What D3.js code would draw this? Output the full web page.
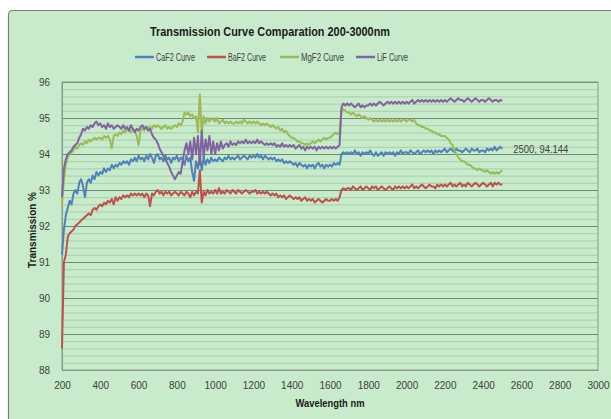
<!DOCTYPE html>
<html>
<head>
<meta charset="utf-8">
<script src="https://cdn.jsdelivr.net/npm/d3@7"></script>
<style>
body { margin: 0; background: #fff; }
svg { display: block; font-family: "Liberation Sans", "DejaVu Sans", sans-serif; }
</style>
</head>
<body>
<script>
// wavelength grid, nm (10 nm steps from 200 to 2500)
var wavelengths = d3.range(200, 2501, 10);

// transmission %, one row per 100 nm
var caf2 = [
	91.2, 91.9, 92.3, 92.5, 92.7, 92.6, 92.9, 93.0, 92.9, 93.2,
	93.3, 93.1, 92.8, 93.2, 93.3, 93.2, 93.4, 93.3, 93.5, 93.4,
	93.5, 93.45, 93.6, 93.5, 93.6, 93.55, 93.7, 93.6, 93.7, 93.65,
	93.75, 93.7, 93.8, 93.75, 93.8, 93.7, 93.85, 93.8, 93.9, 93.8,
	93.95, 93.85, 93.9, 93.8, 93.95, 93.85, 94.0, 93.9, 93.75, 93.95,
	94.0, 93.85, 93.9, 93.8, 93.95, 93.85, 93.9, 93.75, 93.9, 93.85,
	93.95, 93.8, 93.9, 93.85, 93.7, 93.95, 93.8, 93.9, 93.5, 93.25,
	93.8, 93.6, 93.95, 93.55, 93.9, 93.7, 93.85, 93.75, 93.9, 93.8,
	93.85, 93.8, 93.9, 93.85, 93.8, 93.9, 93.85, 93.95, 93.85, 93.9,
	93.85, 93.9, 93.95, 93.85, 93.9, 93.95, 93.9, 93.85, 93.95, 93.9,
	93.95, 93.9, 94.0, 93.9, 93.95, 93.85, 93.95, 93.9, 93.85, 93.9,
	93.85, 93.9, 93.8, 93.85, 93.8, 93.85, 93.75, 93.8, 93.75, 93.8,
	93.75, 93.7, 93.75, 93.65, 93.75, 93.7, 93.65, 93.7, 93.6, 93.7,
	93.65, 93.7, 93.6, 93.7, 93.75, 93.65, 93.7, 93.6, 93.7, 93.65,
	93.7, 93.65, 93.75, 93.7, 93.75, 93.7, 94.0, 94.05, 94.0, 94.05,
	94.0, 94.05, 94.0, 94.1, 94.0, 94.05, 93.95, 94.05, 94.0, 94.05,
	94.0, 94.1, 94.0, 93.95, 94.05, 93.95, 94.0, 94.05, 93.95, 94.05,
	94.0, 94.05, 94.0, 94.05, 93.95, 94.05, 94.0, 94.1, 94.0, 94.05,
	94.05, 94.0, 94.1, 94.05, 94.0, 94.05, 94.1, 94.0, 94.05, 94.1,
	94.05, 94.1, 94.05, 94.1, 94.0, 94.1, 94.05, 94.1, 94.05, 94.1,
	94.15, 94.05, 94.1, 94.15, 94.1, 94.05, 94.15, 94.1, 94.1, 94.05,
	94.1, 94.15, 94.1, 94.05, 94.15, 94.1, 94.1, 94.15, 94.05, 94.1,
	94.1, 94.05, 94.15, 94.1, 94.15, 94.1, 94.2, 94.1, 94.15, 94.2,
	94.144
];

var baf2 = [
	88.6, 91.0, 91.2, 91.7, 91.8, 91.85, 91.9, 92.0, 92.05, 92.1,
	92.15, 92.2, 92.25, 92.3, 92.35, 92.3, 92.45, 92.5, 92.45, 92.55,
	92.6, 92.55, 92.65, 92.6, 92.7, 92.65, 92.75, 92.6, 92.8, 92.7,
	92.8, 92.75, 92.85, 92.8, 92.85, 92.8, 92.9, 92.85, 92.9, 92.85,
	92.9, 92.85, 92.9, 92.8, 92.9, 92.85, 92.55, 92.9, 92.85, 92.95,
	93.0, 92.9, 92.95, 92.85, 92.95, 92.9, 92.95, 92.85, 92.9, 92.95,
	92.9, 92.85, 92.95, 92.9, 92.85, 92.95, 92.9, 92.8, 92.95, 92.85,
	92.95, 92.9, 93.55, 92.65, 92.95, 92.85, 93.0, 92.9, 92.95, 92.9,
	93.0, 92.9, 93.05, 92.9, 92.95, 92.9, 93.0, 92.95, 92.9, 93.0,
	92.95, 92.9, 93.0, 92.95, 92.9, 92.95, 93.0, 92.95, 92.9, 92.95,
	92.95, 93.0, 92.9, 92.95, 92.9, 92.95, 92.9, 92.95, 92.9, 92.85,
	92.9, 92.85, 92.9, 92.8, 92.85, 92.8, 92.85, 92.75, 92.8, 92.85,
	92.8, 92.75, 92.8, 92.75, 92.8, 92.7, 92.75, 92.8, 92.7, 92.75,
	92.7, 92.75, 92.65, 92.7, 92.75, 92.7, 92.65, 92.7, 92.75, 92.7,
	92.7, 92.75, 92.7, 92.75, 92.7, 92.8, 93.0, 93.05, 93.0, 93.05,
	93.05, 93.0, 93.1, 93.05, 93.0, 93.05, 93.1, 93.0, 93.05, 93.1,
	93.05, 93.0, 93.1, 93.05, 93.1, 93.0, 93.05, 93.1, 93.05, 93.0,
	93.05, 93.1, 93.05, 93.0, 93.1, 93.05, 93.1, 93.05, 93.1, 93.05,
	93.1, 93.05, 93.1, 93.15, 93.05, 93.1, 93.05, 93.1, 93.15, 93.1,
	93.05, 93.1, 93.15, 93.1, 93.1, 93.05, 93.15, 93.1, 93.15, 93.1,
	93.15, 93.1, 93.15, 93.2, 93.1, 93.15, 93.1, 93.15, 93.2, 93.1,
	93.15, 93.1, 93.2, 93.15, 93.1, 93.15, 93.2, 93.15, 93.1, 93.15,
	93.2, 93.15, 93.1, 93.15, 93.2, 93.1, 93.2, 93.15, 93.2, 93.15,
	93.15
];

var mgf2 = [
	92.6, 93.3, 93.7, 93.9, 94.0, 94.05, 94.1, 94.2, 94.15, 94.25,
	94.3, 94.25, 94.35, 94.3, 94.4, 94.35, 94.4, 94.45, 94.4, 94.45,
	94.45, 94.4, 94.5, 94.45, 94.5, 94.4, 94.15, 94.5, 94.55, 94.5,
	94.6, 94.55, 94.65, 94.6, 94.7, 94.65, 94.6, 94.7, 94.65, 94.5,
	94.25, 94.65, 94.7, 94.65, 94.75, 94.7, 94.75, 94.7, 94.8, 94.75,
	94.8, 94.75, 94.7, 94.75, 94.8, 94.7, 94.75, 94.7, 94.75, 94.8,
	94.75, 94.85, 94.8, 94.9, 95.15, 95.1, 95.15, 95.05, 95.1, 95.0,
	95.05, 94.6, 95.65, 94.55, 95.05, 94.85, 95.0, 94.9, 95.0, 94.95,
	94.9, 95.0, 94.85, 94.9, 94.95, 94.85, 94.9, 94.85, 94.9, 94.85,
	94.85, 94.9, 94.85, 94.9, 94.85, 94.95, 94.9, 94.85, 94.9, 94.85,
	94.9, 94.85, 94.9, 94.85, 94.8, 94.85, 94.8, 94.85, 94.8, 94.75,
	94.8, 94.75, 94.7, 94.75, 94.65, 94.7, 94.6, 94.65, 94.55, 94.5,
	94.45, 94.45, 94.4, 94.35, 94.35, 94.3, 94.3, 94.25, 94.3, 94.25,
	94.3, 94.35, 94.3, 94.35, 94.4, 94.35, 94.4, 94.45, 94.4, 94.45,
	94.45, 94.5, 94.55, 94.6, 94.55, 94.6, 95.2, 95.25, 95.2, 95.15,
	95.15, 95.1, 95.15, 95.1, 95.05, 95.1, 95.05, 95.0, 95.05, 95.0,
	94.95, 95.0, 94.95, 94.9, 94.95, 94.9, 94.95, 94.9, 94.95, 94.9,
	94.95, 94.9, 94.95, 94.9, 94.95, 94.9, 94.95, 94.9, 94.95, 94.95,
	94.9, 94.95, 94.95, 94.9, 94.95, 94.85, 94.8, 94.8, 94.75, 94.75,
	94.7, 94.7, 94.65, 94.65, 94.6, 94.6, 94.55, 94.55, 94.5, 94.5,
	94.5, 94.45, 94.4, 94.3, 94.25, 94.1, 94.0, 93.9, 93.85, 93.8,
	93.8, 93.75, 93.7, 93.7, 93.65, 93.6, 93.6, 93.55, 93.6, 93.55,
	93.55, 93.5, 93.55, 93.5, 93.45, 93.5, 93.45, 93.5, 93.45, 93.5,
	93.55
];

var lif = [
	92.8, 93.6, 93.85, 94.0, 94.05, 94.1, 94.2, 94.25, 94.3, 94.45,
	94.55, 94.7, 94.65, 94.75, 94.7, 94.8, 94.75, 94.85, 94.9, 94.8,
	94.85, 94.75, 94.8, 94.7, 94.85, 94.75, 94.8, 94.7, 94.75, 94.8,
	94.75, 94.7, 94.8, 94.7, 94.75, 94.65, 94.8, 94.7, 94.6, 94.7,
	94.65, 94.75, 94.8, 94.7, 94.75, 94.65, 94.7, 94.55, 94.45, 94.4,
	94.3, 94.15, 94.05, 93.95, 93.85, 93.75, 93.65, 93.5, 93.4, 93.3,
	93.4, 93.5, 93.45, 93.8, 94.1, 94.3, 94.0, 94.35, 93.85, 94.45,
	94.0, 94.5, 93.7, 94.65, 93.9, 94.4, 94.1, 94.5, 94.0, 94.35,
	94.0, 94.3, 94.1, 94.35, 94.15, 94.25, 94.3, 94.2, 94.35, 94.25,
	94.3, 94.25, 94.35, 94.3, 94.35, 94.3, 94.4, 94.3, 94.35, 94.3,
	94.35, 94.3, 94.4, 94.3, 94.35, 94.3, 94.25, 94.3, 94.25, 94.3,
	94.25, 94.3, 94.2, 94.25, 94.2, 94.3, 94.2, 94.25, 94.2, 94.25,
	94.2, 94.25, 94.15, 94.2, 94.25, 94.15, 94.2, 94.1, 94.2, 94.15,
	94.2, 94.15, 94.2, 94.1, 94.2, 94.15, 94.2, 94.15, 94.2, 94.15,
	94.2, 94.15, 94.2, 94.15, 94.2, 94.25, 95.3, 95.4, 95.35, 95.4,
	95.35, 95.4, 95.35, 95.3, 95.35, 95.4, 95.3, 95.35, 95.3, 95.35,
	95.35, 95.4, 95.35, 95.4, 95.35, 95.4, 95.45, 95.4, 95.35, 95.4,
	95.45, 95.4, 95.45, 95.4, 95.45, 95.4, 95.45, 95.4, 95.45, 95.4,
	95.45, 95.4, 95.45, 95.5, 95.4, 95.45, 95.5, 95.45, 95.5, 95.45,
	95.5, 95.45, 95.5, 95.45, 95.5, 95.45, 95.5, 95.45, 95.5, 95.45,
	95.5, 95.45, 95.5, 95.55, 95.5, 95.45, 95.5, 95.55, 95.5, 95.5,
	95.45, 95.5, 95.55, 95.5, 95.45, 95.5, 95.55, 95.5, 95.45, 95.5,
	95.5, 95.45, 95.5, 95.55, 95.5, 95.45, 95.5, 95.5, 95.45, 95.5,
	95.48
];

var seriesNames = ['CaF2 Curve', 'BaF2 Curve', 'MgF2 Curve', 'LiF Curve'];
var seriesColors = ['#4f81bd', '#c0504d', '#9bbb59', '#8064a2'];
var xTicks = [200, 400, 600, 800, 1000, 1200, 1400, 1600, 1800, 2000, 2200, 2400, 2600, 2800, 3000];
var yTicks = [88, 89, 90, 91, 92, 93, 94, 95, 96];

var width = 611,
	height = 419,
	margin = {top: 82, right: 13, bottom: 49, left: 62};

var svg = d3.select('body').append('svg')
	.attr('width', width)
	.attr('height', height);

// chart area background + border
svg.append('rect')
	.attr('x', 8.5)
	.attr('y', 10.5)
	.attr('width', 640)
	.attr('height', 440)
	.attr('rx', 4)
	.attr('fill', '#c8ebcb')
	.attr('stroke', '#7f7f7f')
	.attr('stroke-width', 1.2);

var w = width - margin.left - margin.right,
	h = height - margin.top - margin.bottom;

var xScale = d3.scaleLinear().domain([200, 3000]).range([0, w]),
	yScale = d3.scaleLinear().domain([88, 96]).range([h, 0]);

var g = svg.append('g')
	.attr('transform', 'translate(' + margin.left + ',' + margin.top + ')');

// minor gridlines every 0.2
g.append('g')
	.call(d3.axisLeft(yScale).tickValues(d3.range(88, 96.01, 0.2)).tickSize(-w).tickFormat(''))
	.call(function(s) {
		s.select('.domain').remove();
		s.selectAll('line').attr('stroke', '#a9cdab').attr('stroke-width', 1);
	});

// major gridlines
g.append('g')
	.call(d3.axisLeft(yScale).tickValues(yTicks).tickSize(-w).tickFormat(''))
	.call(function(s) {
		s.select('.domain').remove();
		s.selectAll('line').attr('stroke', '#6f8a70').attr('stroke-width', 1);
	});

// plot border
g.append('rect')
	.attr('width', w)
	.attr('height', h)
	.attr('fill', 'none')
	.attr('stroke', '#8a9a8a')
	.attr('stroke-width', 1);

// y axis
g.append('g')
	.call(d3.axisLeft(yScale).tickValues(yTicks).tickSize(0).tickPadding(12).tickFormat(d3.format('d')))
	.call(function(s) {
		s.select('.domain').attr('stroke', '#8a9a8a');
		s.selectAll('text').attr('font-size', 10).attr('fill', '#404040');
	});

// x axis
g.append('g')
	.attr('transform', 'translate(0,' + h + ')')
	.call(d3.axisBottom(xScale).tickValues(xTicks).tickSize(0).tickPadding(12).tickFormat(d3.format('d')))
	.call(function(s) {
		s.select('.domain').attr('stroke', '#8a9a8a');
		s.selectAll('text').attr('font-size', 10).attr('fill', '#404040');
	});

// lines
var allSeries = [caf2, baf2, mgf2, lif];
var line = d3.line()
	.x(function(d, i) { return xScale(wavelengths[i]); })
	.y(function(d) { return yScale(d); });

g.selectAll('.series')
	.data(allSeries)
	.enter().append('path')
	.attr('class', 'series')
	.attr('fill', 'none')
	.attr('stroke', function(d, i) { return seriesColors[i]; })
	.attr('stroke-width', 2)
	.attr('stroke-linejoin', 'round')
	.attr('d', line);

// data label at the last CaF2 point
var last = caf2.length - 1;
g.append('text')
	.attr('x', xScale(wavelengths[last]) + 11)
	.attr('y', yScale(caf2[last]) + 4)
	.attr('font-size', 10)
	.attr('textLength', 55)
	.attr('lengthAdjust', 'spacingAndGlyphs')
	.attr('fill', '#404040')
	.text(wavelengths[last] + ', ' + caf2[last]);

// title
svg.append('text')
	.attr('x', 270)
	.attr('y', 36)
	.attr('text-anchor', 'middle')
	.attr('font-size', 13)
	.attr('font-weight', 'bold')
	.attr('textLength', 240)
	.attr('lengthAdjust', 'spacingAndGlyphs')
	.attr('fill', '#1a1a1a')
	.text('Transmission Curve Comparation 200-3000nm');

// legend
var legendX = [135, 207, 280, 356],
	legendW = [39, 38, 43, 31];
var legend = svg.selectAll('.legend')
	.data(seriesNames)
	.enter().append('g')
	.attr('class', 'legend')
	.attr('transform', function(d, i) { return 'translate(' + legendX[i] + ',57)'; });
legend.append('line')
	.attr('x1', 0).attr('x2', 19)
	.attr('stroke', function(d, i) { return seriesColors[i]; })
	.attr('stroke-width', 2.5);
legend.append('text')
	.attr('x', 21)
	.attr('y', 3.5)
	.attr('font-size', 10)
	.attr('textLength', function(d, i) { return legendW[i]; })
	.attr('lengthAdjust', 'spacingAndGlyphs')
	.attr('fill', '#404040')
	.text(function(d) { return d; });

// axis titles
svg.append('text')
	.attr('transform', 'translate(36,230) rotate(-90)')
	.attr('text-anchor', 'middle')
	.attr('font-size', 11)
	.attr('font-weight', 'bold')
	.attr('textLength', 76)
	.attr('lengthAdjust', 'spacingAndGlyphs')
	.attr('fill', '#1a1a1a')
	.text('Transmission %');

svg.append('text')
	.attr('x', 330)
	.attr('y', 407)
	.attr('text-anchor', 'middle')
	.attr('font-size', 10)
	.attr('font-weight', 'bold')
	.attr('textLength', 69)
	.attr('lengthAdjust', 'spacingAndGlyphs')
	.attr('fill', '#1a1a1a')
	.text('Wavelength nm');
</script>
</body>
</html>
